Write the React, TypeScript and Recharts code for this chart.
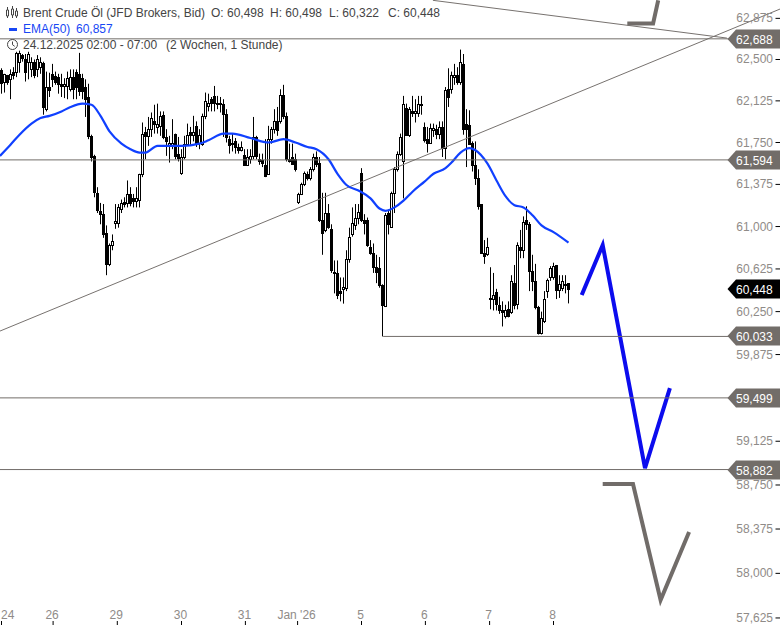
import { Bar, ComposedChart, Line, ReferenceLine, XAxis, YAxis } from "recharts";

// hourly candles, one value per bar
const highs = [
  62.42, 62.37, 62.36, 62.41, 62.43, 62.57, 62.58, 62.55, 62.55, 62.57,
  62.52, 62.5, 62.54, 62.52, 62.48, 62.39, 62.38, 62.46, 62.39, 62.37,
  62.37, 62.33, 62.39, 62.41, 62.41, 62.41, 62.56, 62.37, 62.32, 62.28,
  61.82, 61.64, 61.35, 61.21, 61.2, 61.01, 60.85, 60.93, 61.2, 61.2,
  61.24, 61.26, 61.41, 61.35, 61.29, 61.35, 61.47, 61.93, 61.89, 61.98,
  62.02, 62.09, 62.1, 62.03, 62.03, 61.87, 61.81, 61.96, 61.83, 61.8,
  61.69, 61.81, 61.92, 61.89, 61.99, 61.94, 61.87, 62.01, 62.2, 62.19,
  62.16, 62.26, 62.17, 62.16, 62.14, 62.05, 61.81, 61.83, 61.79, 61.74,
  61.76, 61.69, 61.69, 61.69, 61.98, 61.81, 61.65, 61.65, 61.78, 61.9,
  61.89, 62.05, 62.07, 62.23, 62.27, 62.02, 61.74, 61.74, 61.65, 61.3,
  61.39, 61.49, 61.49, 61.53, 61.65, 61.67, 61.62, 61.3, 61.3, 61.2,
  61.02, 60.7, 60.7, 60.55, 60.55, 60.79, 60.99, 61.17, 61.2, 61.2,
  61.52, 61.11, 61.08, 60.88, 60.85, 60.75, 60.73, 60.49, 61.12, 61.15,
  61.31, 61.53, 61.67, 61.83, 62.17, 62.1, 62.07, 62.17, 62.14, 62.17,
  62.17, 61.93, 61.89, 61.92, 61.92, 61.91, 61.94, 61.94, 62.25, 62.42,
  62.39, 62.46, 62.43, 62.59, 62.55, 62.05, 62.04, 61.76, 61.76, 61.51,
  61.2, 60.88, 60.9, 60.64, 60.59, 60.45, 60.38, 60.34, 60.31, 60.34,
  60.57, 60.66, 60.86, 60.97, 61.09, 61.18, 61.04, 60.75, 60.67, 60.3,
  60.25, 60.43, 60.54, 60.65, 60.68, 60.66, 60.57, 60.57, 60.57, 60.498,
];
const lows = [
  62.19, 62.2, 62.27, 62.14, 62.32, 62.34, 62.38, 62.48, 62.3, 62.32,
  62.34, 62.33, 62.34, 62.37, 62.0, 62.03, 62.16, 62.25, 62.27, 62.19,
  62.16, 62.15, 62.14, 62.21, 62.14, 62.14, 62.17, 62.14, 61.98, 61.78,
  61.58, 61.26, 61.12, 61.02, 60.9, 60.57, 60.65, 60.79, 60.98, 60.99,
  61.12, 61.17, 61.17, 61.18, 61.17, 61.17, 61.17, 61.44, 61.6, 61.72,
  61.8, 61.83, 61.83, 61.81, 61.78, 61.63, 61.57, 61.69, 61.6, 61.58,
  61.46, 61.6, 61.72, 61.73, 61.76, 61.71, 61.69, 61.72, 61.96, 62.03,
  62.03, 62.03, 62.05, 62.02, 61.8, 61.75, 61.65, 61.67, 61.65, 61.65,
  61.67, 61.54, 61.54, 61.56, 61.6, 61.6, 61.55, 61.53, 61.44, 61.46,
  61.74, 61.83, 61.81, 61.92, 61.96, 61.58, 61.57, 61.55, 61.49, 61.2,
  61.28, 61.36, 61.41, 61.41, 61.49, 61.53, 61.04, 60.75, 60.95, 60.98,
  60.59, 60.41, 60.36, 60.34, 60.32, 60.43, 60.68, 60.91, 60.97, 61.02,
  61.04, 60.93, 60.82, 60.75, 60.59, 60.5, 60.46, 60.033, 60.29, 60.93,
  60.99, 61.12, 61.49, 61.63, 61.25, 61.81, 61.8, 61.98, 61.93, 61.98,
  62.0, 61.75, 61.66, 61.74, 61.8, 61.78, 61.78, 61.62, 61.6, 62.07,
  62.19, 62.27, 62.27, 62.27, 61.82, 61.53, 61.73, 61.49, 61.37, 61.15,
  60.76, 60.67, 60.74, 60.27, 60.26, 60.26, 60.23, 60.12, 60.19, 60.2,
  60.23, 60.27, 60.27, 60.72, 60.72, 60.97, 60.43, 60.43, 60.27, 60.05,
  60.05, 60.15, 60.37, 60.52, 60.53, 60.36, 60.37, 60.43, 60.41, 60.322,
];
const opens = [
  62.4, 62.3, 62.36, 62.32, 62.39, 62.39, 62.48, 62.54, 62.5, 62.48,
  62.41, 62.48, 62.41, 62.43, 62.47, 62.05, 62.25, 62.37, 62.35, 62.34,
  62.28, 62.26, 62.26, 62.23, 62.34, 62.39, 62.37, 62.33, 62.25, 62.16,
  61.81, 61.63, 61.3, 61.14, 61.11, 60.94, 60.67, 60.84, 61.03, 61.03,
  61.16, 61.22, 61.21, 61.29, 61.25, 61.23, 61.24, 61.47, 61.84, 61.81,
  61.87, 61.94, 61.89, 61.9, 62.0, 61.8, 61.73, 61.72, 61.83, 61.65,
  61.48, 61.62, 61.74, 61.84, 61.82, 61.9, 61.75, 61.74, 61.99, 62.08,
  62.14, 62.17, 62.1, 62.11, 62.1, 62.01, 61.78, 61.74, 61.76, 61.71,
  61.68, 61.64, 61.55, 61.6, 61.63, 61.8, 61.6, 61.59, 61.55, 61.47,
  61.78, 61.87, 61.94, 61.94, 62.18, 61.99, 61.6, 61.62, 61.6, 61.22,
  61.29, 61.38, 61.47, 61.43, 61.51, 61.62, 61.57, 61.06, 60.97, 61.12,
  60.98, 60.6, 60.59, 60.43, 60.45, 60.46, 60.71, 60.93, 61.01, 61.08,
  61.48, 61.06, 61.06, 60.82, 60.77, 60.64, 60.63, 60.48, 60.3, 61.12,
  61.0, 61.3, 61.51, 61.65, 61.58, 62.06, 61.82, 62.03, 62.02, 62.02,
  62.09, 61.89, 61.78, 61.75, 61.86, 61.87, 61.83, 61.89, 61.7, 62.23,
  62.23, 62.34, 62.36, 62.3, 62.46, 61.92, 61.91, 61.75, 61.55, 61.43,
  61.2, 60.77, 60.76, 60.37, 60.36, 60.42, 60.31, 60.26, 60.21, 60.27,
  60.25, 60.5, 60.32, 60.82, 60.79, 61.06, 61.02, 60.61, 60.52, 60.29,
  60.06, 60.17, 60.43, 60.55, 60.55, 60.66, 60.44, 60.46, 60.48, 60.498,
];
const closes = [
  62.29, 62.37, 62.3, 62.37, 62.36, 62.56, 62.56, 62.51, 62.39, 62.55,
  62.48, 62.36, 62.5, 62.48, 62.07, 62.25, 62.22, 62.32, 62.3, 62.28,
  62.26, 62.28, 62.33, 62.34, 62.23, 62.25, 62.21, 62.21, 62.14, 61.81,
  61.62, 61.31, 61.15, 61.11, 60.93, 60.67, 60.84, 60.87, 61.05, 61.17,
  61.21, 61.2, 61.29, 61.21, 61.23, 61.25, 61.47, 61.83, 61.81, 61.87,
  61.97, 61.92, 61.92, 61.99, 61.8, 61.76, 61.75, 61.75, 61.63, 61.61,
  61.62, 61.74, 61.82, 61.82, 61.84, 61.74, 61.82, 61.99, 62.12, 62.11,
  62.11, 62.11, 62.11, 62.1, 62.01, 61.8, 61.73, 61.75, 61.71, 61.68,
  61.71, 61.55, 61.62, 61.63, 61.8, 61.63, 61.58, 61.57, 61.45, 61.78,
  61.87, 61.94, 61.86, 62.18, 61.99, 61.6, 61.58, 61.56, 61.51, 61.29,
  61.38, 61.48, 61.43, 61.51, 61.62, 61.56, 61.06, 60.94, 61.12, 61.0,
  60.62, 60.59, 60.4, 60.41, 60.47, 60.71, 60.91, 61.03, 61.08, 61.13,
  61.06, 61.03, 60.84, 60.77, 60.64, 60.6, 60.48, 60.31, 61.1, 61.02,
  61.3, 61.51, 61.65, 61.8, 62.1, 61.82, 62.05, 62.02, 62.03, 62.1,
  62.1, 61.77, 61.75, 61.88, 61.88, 61.83, 61.89, 61.7, 62.22, 62.16,
  62.36, 62.36, 62.3, 62.48, 61.87, 61.87, 61.74, 61.55, 61.43, 61.18,
  60.77, 60.74, 60.82, 60.36, 60.4, 60.32, 60.26, 60.25, 60.26, 60.21,
  60.52, 60.31, 60.84, 60.79, 61.04, 61.02, 60.61, 60.52, 60.29, 60.06,
  60.19, 60.36, 60.53, 60.63, 60.65, 60.44, 60.49, 60.52, 60.49, 60.448,
];

const emaBars = [
  -0.5, 3, 6, 10, 13, 16, 20, 23, 27, 30, 33, 36, 40, 43, 46, 48, 52, 56, 60, 66, 69, 74, 77, 83, 89, 94, 98,
  102, 105, 109, 112, 115, 119, 123, 126, 128, 131, 134, 137, 141, 144, 148, 150, 153, 156, 158, 162, 165,
  168, 171, 174, 177, 180, 184, 189,
];
const emaValues = [
  61.63, 61.73, 61.82, 61.92, 61.97, 61.99, 62.03, 62.07, 62.1, 62.09, 61.99, 61.85, 61.74, 61.69, 61.66, 61.66,
  61.72, 61.72, 61.72, 61.74, 61.77, 61.83, 61.83, 61.79, 61.75, 61.78, 61.75, 61.71, 61.69, 61.6, 61.47, 61.37,
  61.32, 61.25, 61.16, 61.14, 61.17, 61.23, 61.31, 61.4, 61.47, 61.52, 61.57, 61.66, 61.7, 61.68, 61.56, 61.41,
  61.27, 61.19, 61.17, 61.1, 61.01, 60.95, 60.857,
];

// hand drawn scenario paths on the right
const blueBars = [193.4, 200.4, 214.5, 222.8];
const bluePrices = [60.396, 60.836, 58.895, 59.584];
const greyLowBars = [200.4, 210.5, 219.7, 229.2];
const greyLowPrices = [58.758, 58.758, 57.775, 58.349];
const greyTopBars = [208.6, 217.2, 218.9];
const greyTopPrices = [62.829, 62.829, 63.04];

const levels = [62.688, 61.594, 59.499, 58.882];
const supportLevel = 60.033;
const supportStartBar = 127.2;
const lastPrice = 60.448;

const priceTicks = [
  62.875, 62.5, 62.125, 61.75, 61.375, 61, 60.625, 60.25, 59.875, 59.125, 58.75, 58.375, 58, 57.625,
];
const dayTickBars = [0, 17.2, 38.6, 60, 81.3, 98.7, 120, 141.3, 162.7, 184];
const dayLabels = ["24", "26", "29", "30", "31", "Jan '26", "5", "6", "7", "8"];

const candles = highs.map((high, i) => ({
  bar: i,
  range: [lows[i], high],
  open: opens[i],
  close: closes[i],
}));
const zip = (bars: number[], prices: number[]) => bars.map((bar, i) => ({ bar, price: prices[i] }));

const FONT = "'Liberation Sans', Arial, sans-serif";
const TICK_GREY = "#8f8b88";
const LEVEL_GREY = "#726d69";
const fmt = (v: number) => v.toFixed(3).replace(".", ",");

const Candle = (props: any) => {
  const { x, y, width, height, payload } = props;
  const [low, high] = payload.range;
  const span = Math.log(high / low) || 1;
  const at = (p: number) => y + (height * Math.log(high / p)) / span;
  const left = Math.round(x + width / 2 - 1.5);
  const mid = left + 1.5;
  const up = payload.close >= payload.open;
  const top = Math.round(at(Math.max(payload.open, payload.close)));
  const bottom = Math.max(top + 1, Math.round(at(Math.min(payload.open, payload.close))));
  return (
    <g>
      <line x1={mid} x2={mid} y1={y} y2={y + height} stroke="#000" />
      <rect
        x={left + 0.5}
        y={top + 0.5}
        width={2}
        height={bottom - top}
        fill={up ? "#fff" : "#000"}
        stroke="#000"
      />
    </g>
  );
};

const PriceTick = ({ y, payload }: any) => (
  <g>
    <line x1={775.5} x2={780} y1={y} y2={y} stroke="#000" />
    <text x={773} y={y + 4} textAnchor="end" fontSize={12} fontFamily={FONT} fill={TICK_GREY}>
      {fmt(payload.value)}
    </text>
  </g>
);

const DayTick = ({ x, payload, index }: any) => (
  <g>
    <line x1={x} x2={x} y1={621} y2={625} stroke="#000" />
    <text
      x={index === 0 ? 1 : x - 1}
      y={619}
      textAnchor={index === 0 ? "start" : "middle"}
      fontSize={12}
      fontFamily={FONT}
      fill={TICK_GREY}
    >
      {dayLabels[index]}
    </text>
  </g>
);

const PriceTag = ({ viewBox, value, fill }: any) => {
  const y = Math.round(viewBox.y);
  return (
    <g>
      <path d={`M727.5 ${y} L736 ${y - 9.5} H780 V${y + 9.5} H736 Z`} fill={fill} />
      <text x={736} y={y + 4.5} fontSize={12} fontFamily={FONT} fill="#fff">
        {fmt(value)}
      </text>
    </g>
  );
};

const Header = () => (
  <div style={{ position: "absolute", left: 0, top: 0, fontFamily: FONT, fontSize: 12, whiteSpace: "pre", color: "#444" }}>
    <svg style={{ position: "absolute", left: 0, top: 0 }} width={22} height={52}>
      <path d="M7.5 7v11M12.5 6v12M16.5 8v10" stroke="#444" />
      <path d="M6.5 10h2v6h-2zM11.5 9h2v6h-2zM15.5 11h2v5h-2z" fill="#fff" stroke="#444" />
      <rect x={9} y={28} width={8} height={3} fill="#1747f5" />
      <circle cx={12.5} cy={44.5} r={5} fill="none" stroke="#444" />
      <path d="M12.5 41.5v3.2l2.2 1.6" fill="none" stroke="#444" />
    </svg>
    <span style={{ position: "absolute", left: 23, top: 6 }}>Brent Crude Öl (JFD Brokers, Bid)</span>
    <span style={{ position: "absolute", left: 211, top: 6 }}>O: 60,498</span>
    <span style={{ position: "absolute", left: 270, top: 6 }}>H: 60,498</span>
    <span style={{ position: "absolute", left: 329, top: 6 }}>L: 60,322</span>
    <span style={{ position: "absolute", left: 388, top: 6 }}>C: 60,448</span>
    <span style={{ position: "absolute", left: 23, top: 22, color: "#1747f5" }}>EMA(50)</span>
    <span style={{ position: "absolute", left: 76, top: 22, color: "#1747f5" }}>60,857</span>
    <span style={{ position: "absolute", left: 23, top: 38 }}>24.12.2025 02:00 - 07:00</span>
    <span style={{ position: "absolute", left: 166, top: 38 }}>(2 Wochen, 1 Stunde)</span>
  </div>
);

export default function App() {
  return (
    <div style={{ position: "absolute", left: 0, top: 0, width: 780, height: 625, overflow: "hidden", background: "#fff" }}>
      <ComposedChart width={780} height={625} data={candles} margin={{ top: 0, right: 0, bottom: 0, left: 0 }}>
        <XAxis
          dataKey="bar"
          type="number"
          domain={[-0.5, 259.5]}
          ticks={dayTickBars}
          interval={0}
          mirror
          height={30}
          axisLine={false}
          tickLine={false}
          tick={<DayTick />}
        />
        <YAxis
          orientation="right"
          scale="log"
          domain={[57.566, 63.043]}
          allowDataOverflow
          ticks={priceTicks}
          interval={0}
          mirror
          width={60}
          axisLine={false}
          tickLine={false}
          tick={<PriceTick />}
        />
        <ReferenceLine
          segment={[
            { x: -0.5, y: 60.08 },
            { x: 259.5, y: 62.96 },
          ]}
          stroke="#77726f"
          ifOverflow="visible"
        />
        <ReferenceLine
          segment={[
            { x: 143.8, y: 63.04 },
            { x: 241.8, y: 62.695 },
          ]}
          stroke="#77726f"
          ifOverflow="visible"
        />
        <Bar dataKey="range" barSize={3} shape={<Candle />} isAnimationActive={false} />
        <Line
          data={zip(emaBars, emaValues)}
          dataKey="price"
          stroke="#1040ff"
          strokeWidth={2.2}
          dot={false}
          type="monotone"
          isAnimationActive={false}
        />
        <Line data={zip(blueBars, bluePrices)} dataKey="price" stroke="#0c0cee" strokeWidth={4} dot={false} isAnimationActive={false} />
        <Line data={zip(greyLowBars, greyLowPrices)} dataKey="price" stroke="#716c69" strokeWidth={4} dot={false} isAnimationActive={false} />
        <Line data={zip(greyTopBars, greyTopPrices)} dataKey="price" stroke="#716c69" strokeWidth={4} dot={false} isAnimationActive={false} />
        <ReferenceLine
          segment={[
            { x: supportStartBar, y: supportLevel },
            { x: 259.5, y: supportLevel },
          ]}
          stroke={LEVEL_GREY}
          ifOverflow="visible"
        />
        <ReferenceLine y={supportLevel} stroke="none" label={<PriceTag value={supportLevel} fill={LEVEL_GREY} />} />
        {levels.map((level) => (
          <ReferenceLine key={level} y={level} stroke={LEVEL_GREY} label={<PriceTag value={level} fill={LEVEL_GREY} />} />
        ))}
        <ReferenceLine y={lastPrice} stroke="none" label={<PriceTag value={lastPrice} fill="#000" />} />
      </ComposedChart>
      <Header />
    </div>
  );
}
